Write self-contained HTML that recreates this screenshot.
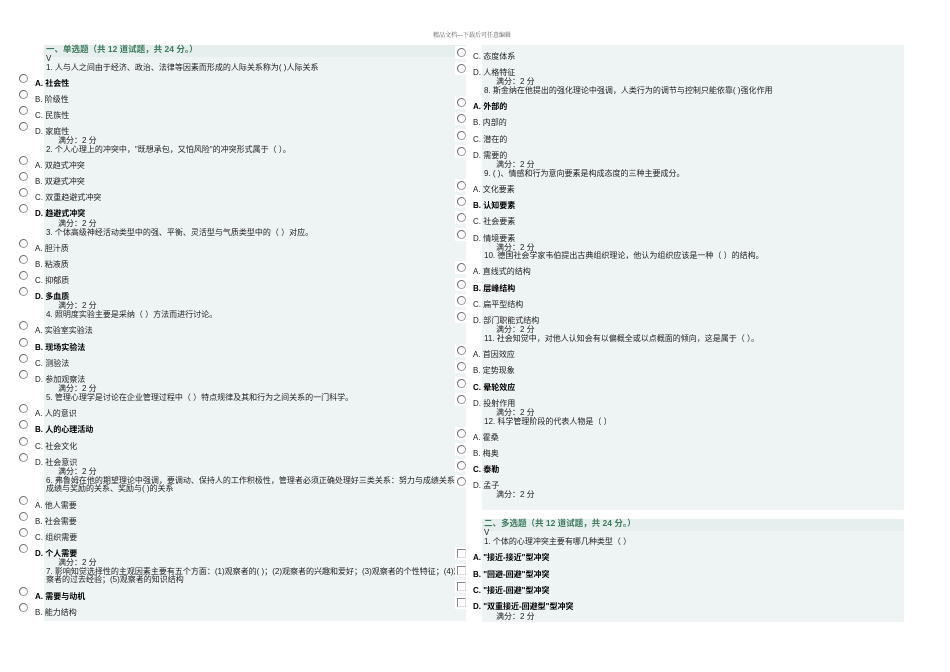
<!DOCTYPE html>
<html><head><meta charset="utf-8">
<style>
html,body{margin:0;padding:0;background:#fff;}
body{width:950px;height:672px;position:relative;overflow:hidden;font-family:"Liberation Sans","Noto Sans CJK SC",sans-serif;font-size:8px;color:#222;}
.p{position:absolute;background:#eef3f3;}
.t{position:absolute;white-space:nowrap;line-height:9px;}
.b{font-weight:bold;color:#000;}
.h{font-weight:bold;color:#3d7a5c;font-size:8.5px;}
.r{position:absolute;width:7px;height:7px;border:1px solid #999;border-radius:50%;background:#fff;border-left-color:#666;border-top-color:#666;}
.w{position:absolute;background:#fff;width:14px;height:13px;}
.c{position:absolute;width:7px;height:7px;border:1px solid #888;border-right-color:#ddd;border-bottom-color:#ddd;background:#fff;}
</style></head><body>
<div class="t" style="left:433px;top:32px;font-size:6px;color:#555;font-family:'Liberation Serif','Noto Serif CJK SC',serif;">精品文档---下载后可任意编辑</div>

<div class="p" style="left:44px;top:45px;width:422px;height:576px;"></div>
<div class="p" style="left:44px;top:45px;width:422px;height:12px;background:#e6eeee;"></div>
<div class="p" style="left:482px;top:45px;width:422px;height:465px;"></div>
<div class="p" style="left:482px;top:519px;width:422px;height:103px;"></div>
<div class="p" style="left:482px;top:519px;width:422px;height:12px;background:#e6eeee;"></div>

<!-- left column -->
<div class="t h" style="left:46px;top:45px;">一、单选题（共 12 道试题，共 24 分。）</div>
<div class="t" style="left:46px;top:54px;">V</div>
<div class="t" style="left:46px;top:63px;">1. 人与人之间由于经济、政治、法律等因素而形成的人际关系称为( )人际关系</div>
<div class="t b" style="left:35px;top:79px;">A. 社会性</div>
<div class="t" style="left:35px;top:95px;">B. 阶级性</div>
<div class="t" style="left:35px;top:111px;">C. 民族性</div>
<div class="t" style="left:35px;top:127px;">D. 家庭性</div>
<div class="t" style="left:58px;top:136px;">满分：2 分</div>
<div class="t" style="left:46px;top:145px;">2. 个人心理上的冲突中，"既想承包，又怕风险"的冲突形式属于（ ）。</div>
<div class="t" style="left:35px;top:161px;">A. 双趋式冲突</div>
<div class="t" style="left:35px;top:177px;">B. 双避式冲突</div>
<div class="t" style="left:35px;top:193px;">C. 双重趋避式冲突</div>
<div class="t b" style="left:35px;top:209px;">D. 趋避式冲突</div>
<div class="t" style="left:58px;top:219px;">满分：2 分</div>
<div class="t" style="left:46px;top:228px;">3. 个体高级神经活动类型中的强、平衡、灵活型与气质类型中的（ ）对应。</div>
<div class="t" style="left:35px;top:244px;">A. 胆汁质</div>
<div class="t" style="left:35px;top:260px;">B. 粘液质</div>
<div class="t" style="left:35px;top:276px;">C. 抑郁质</div>
<div class="t b" style="left:35px;top:292px;">D. 多血质</div>
<div class="t" style="left:58px;top:301px;">满分：2 分</div>
<div class="t" style="left:46px;top:310px;">4. 照明度实验主要是采纳（ ）方法而进行讨论。</div>
<div class="t" style="left:35px;top:326px;">A. 实验室实验法</div>
<div class="t b" style="left:35px;top:343px;">B. 现场实验法</div>
<div class="t" style="left:35px;top:359px;">C. 测验法</div>
<div class="t" style="left:35px;top:375px;">D. 参加观察法</div>
<div class="t" style="left:58px;top:384px;">满分：2 分</div>
<div class="t" style="left:46px;top:393px;">5. 管理心理学是讨论在企业管理过程中（ ）特点规律及其和行为之间关系的一门科学。</div>
<div class="t" style="left:35px;top:409px;">A. 人的意识</div>
<div class="t b" style="left:35px;top:425px;">B. 人的心理活动</div>
<div class="t" style="left:35px;top:442px;">C. 社会文化</div>
<div class="t" style="left:35px;top:458px;">D. 社会意识</div>
<div class="t" style="left:58px;top:467px;">满分：2 分</div>
<div class="t" style="left:46px;top:476px;">6. 弗鲁姆在他的期望理论中强调，要调动、保持人的工作积极性，管理者必须正确处理好三类关系：努力与成绩关系、</div>
<div class="t" style="left:46px;top:484px;">成绩与奖励的关系、奖励与( )的关系</div>
<div class="t" style="left:35px;top:501px;">A. 他人需要</div>
<div class="t" style="left:35px;top:517px;">B. 社会需要</div>
<div class="t" style="left:35px;top:533px;">C. 组织需要</div>
<div class="t b" style="left:35px;top:549px;">D. 个人需要</div>
<div class="t" style="left:58px;top:558px;">满分：2 分</div>
<div class="t" style="left:46px;top:567px;">7. 影响知觉选择性的主观因素主要有五个方面：(1)观察者的( )；(2)观察者的兴趣和爱好；(3)观察者的个性特征；(4)观</div>
<div class="t" style="left:46px;top:575px;">察者的过去经验；(5)观察者的知识结构</div>
<div class="t b" style="left:35px;top:592px;">A. 需要与动机</div>
<div class="t" style="left:35px;top:608px;">B. 能力结构</div>

<!-- left radios -->
<div class="r" style="left:19px;top:74px;"></div>
<div class="r" style="left:19px;top:90px;"></div>
<div class="r" style="left:19px;top:106px;"></div>
<div class="r" style="left:19px;top:122px;"></div>
<div class="r" style="left:19px;top:156px;"></div>
<div class="r" style="left:19px;top:172px;"></div>
<div class="r" style="left:19px;top:188px;"></div>
<div class="r" style="left:19px;top:204px;"></div>
<div class="r" style="left:19px;top:239px;"></div>
<div class="r" style="left:19px;top:255px;"></div>
<div class="r" style="left:19px;top:271px;"></div>
<div class="r" style="left:19px;top:287px;"></div>
<div class="r" style="left:19px;top:321px;"></div>
<div class="r" style="left:19px;top:338px;"></div>
<div class="r" style="left:19px;top:354px;"></div>
<div class="r" style="left:19px;top:370px;"></div>
<div class="r" style="left:19px;top:404px;"></div>
<div class="r" style="left:19px;top:420px;"></div>
<div class="r" style="left:19px;top:437px;"></div>
<div class="r" style="left:19px;top:453px;"></div>
<div class="r" style="left:19px;top:496px;"></div>
<div class="r" style="left:19px;top:512px;"></div>
<div class="r" style="left:19px;top:528px;"></div>
<div class="r" style="left:19px;top:544px;"></div>
<div class="r" style="left:19px;top:587px;"></div>
<div class="r" style="left:19px;top:603px;"></div>

<!-- right column -->
<div class="t" style="left:473px;top:52px;">C. 态度体系</div>
<div class="t" style="left:473px;top:68px;">D. 人格特征</div>
<div class="t" style="left:496px;top:77px;">满分：2 分</div>
<div class="t" style="left:484px;top:86px;">8. 斯金纳在他提出的强化理论中强调，人类行为的调节与控制只能依靠( )强化作用</div>
<div class="t b" style="left:473px;top:102px;">A. 外部的</div>
<div class="t" style="left:473px;top:118px;">B. 内部的</div>
<div class="t" style="left:473px;top:135px;">C. 潜在的</div>
<div class="t" style="left:473px;top:151px;">D. 需要的</div>
<div class="t" style="left:496px;top:160px;">满分：2 分</div>
<div class="t" style="left:484px;top:169px;">9. ( )、情感和行为意向要素是构成态度的三种主要成分。</div>
<div class="t" style="left:473px;top:185px;">A. 文化要素</div>
<div class="t b" style="left:473px;top:201px;">B. 认知要素</div>
<div class="t" style="left:473px;top:217px;">C. 社会要素</div>
<div class="t" style="left:473px;top:234px;">D. 情境要素</div>
<div class="t" style="left:496px;top:243px;">满分：2 分</div>
<div class="t" style="left:484px;top:251px;">10. 德国社会学家韦伯提出古典组织理论，他认为组织应该是一种（ ）的结构。</div>
<div class="t" style="left:473px;top:267px;">A. 直线式的结构</div>
<div class="t b" style="left:473px;top:284px;">B. 层峰结构</div>
<div class="t" style="left:473px;top:300px;">C. 扁平型结构</div>
<div class="t" style="left:473px;top:316px;">D. 部门职能式结构</div>
<div class="t" style="left:496px;top:325px;">满分：2 分</div>
<div class="t" style="left:484px;top:334px;">11. 社会知觉中，对他人认知会有以偏概全或以点概面的倾向，这是属于（ ）。</div>
<div class="t" style="left:473px;top:350px;">A. 首因效应</div>
<div class="t" style="left:473px;top:366px;">B. 定势现象</div>
<div class="t b" style="left:473px;top:383px;">C. 晕轮效应</div>
<div class="t" style="left:473px;top:399px;">D. 投射作用</div>
<div class="t" style="left:496px;top:408px;">满分：2 分</div>
<div class="t" style="left:484px;top:417px;">12. 科学管理阶段的代表人物是（ ）</div>
<div class="t" style="left:473px;top:433px;">A. 霍桑</div>
<div class="t" style="left:473px;top:449px;">B. 梅奥</div>
<div class="t b" style="left:473px;top:465px;">C. 泰勒</div>
<div class="t" style="left:473px;top:481px;">D. 孟子</div>
<div class="t" style="left:496px;top:490px;">满分：2 分</div>
<div class="t h" style="left:484px;top:519px;">二、多选题（共 12 道试题，共 24 分。）</div>
<div class="t" style="left:484px;top:528px;">V</div>
<div class="t" style="left:484px;top:537px;">1. 个体的心理冲突主要有哪几种类型（ ）</div>
<div class="t b" style="left:473px;top:553px;">A. "接近-接近"型冲突</div>
<div class="t b" style="left:473px;top:570px;">B. "回避-回避"型冲突</div>
<div class="t b" style="left:473px;top:586px;">C. "接近-回避"型冲突</div>
<div class="t b" style="left:473px;top:602px;">D. "双重接近-回避型"型冲突</div>
<div class="t" style="left:496px;top:612px;">满分：2 分</div>

<!-- right radios -->
<div class="w" style="left:455px;top:46px;"></div><div class="r" style="left:457px;top:48px;"></div>
<div class="w" style="left:455px;top:62px;"></div><div class="r" style="left:457px;top:64px;"></div>
<div class="w" style="left:455px;top:96px;"></div><div class="r" style="left:457px;top:98px;"></div>
<div class="w" style="left:455px;top:112px;"></div><div class="r" style="left:457px;top:114px;"></div>
<div class="w" style="left:455px;top:129px;"></div><div class="r" style="left:457px;top:131px;"></div>
<div class="w" style="left:455px;top:145px;"></div><div class="r" style="left:457px;top:147px;"></div>
<div class="w" style="left:455px;top:179px;"></div><div class="r" style="left:457px;top:181px;"></div>
<div class="w" style="left:455px;top:195px;"></div><div class="r" style="left:457px;top:197px;"></div>
<div class="w" style="left:455px;top:211px;"></div><div class="r" style="left:457px;top:213px;"></div>
<div class="w" style="left:455px;top:228px;"></div><div class="r" style="left:457px;top:230px;"></div>
<div class="w" style="left:455px;top:261px;"></div><div class="r" style="left:457px;top:263px;"></div>
<div class="w" style="left:455px;top:278px;"></div><div class="r" style="left:457px;top:280px;"></div>
<div class="w" style="left:455px;top:294px;"></div><div class="r" style="left:457px;top:296px;"></div>
<div class="w" style="left:455px;top:310px;"></div><div class="r" style="left:457px;top:312px;"></div>
<div class="w" style="left:455px;top:344px;"></div><div class="r" style="left:457px;top:346px;"></div>
<div class="w" style="left:455px;top:360px;"></div><div class="r" style="left:457px;top:362px;"></div>
<div class="w" style="left:455px;top:377px;"></div><div class="r" style="left:457px;top:379px;"></div>
<div class="w" style="left:455px;top:393px;"></div><div class="r" style="left:457px;top:395px;"></div>
<div class="w" style="left:455px;top:427px;"></div><div class="r" style="left:457px;top:429px;"></div>
<div class="w" style="left:455px;top:443px;"></div><div class="r" style="left:457px;top:445px;"></div>
<div class="w" style="left:455px;top:459px;"></div><div class="r" style="left:457px;top:461px;"></div>
<div class="w" style="left:455px;top:475px;"></div><div class="r" style="left:457px;top:477px;"></div>
<div class="w" style="left:455px;top:547px;"></div><div class="c" style="left:457px;top:549px;"></div>
<div class="w" style="left:455px;top:564px;"></div><div class="c" style="left:457px;top:566px;"></div>
<div class="w" style="left:455px;top:580px;"></div><div class="c" style="left:457px;top:582px;"></div>
<div class="w" style="left:455px;top:596px;"></div><div class="c" style="left:457px;top:598px;"></div>
</body></html>
